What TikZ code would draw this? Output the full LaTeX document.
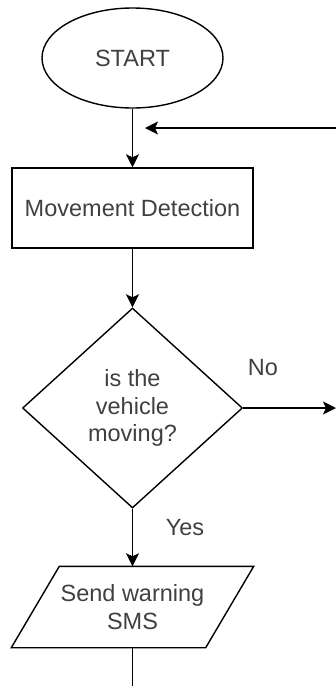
\documentclass[tikz,border=0pt]{standalone}
\usepackage{fontspec}
\setmainfont{Liberation Sans}
\usetikzlibrary{shapes.geometric,arrows.meta}
\definecolor{txt}{RGB}{64,64,64}
\tikzset{
  base/.style={draw=black, line width=1.4pt, text=txt, font=\fontsize{23.5}{27.5}\selectfont, align=center, inner sep=0pt},
  arr/.style={line width=1.4pt, -{Stealth[length=13pt,width=13pt,inset=3pt]}},
  plain/.style={line width=1.4pt},
  lbl/.style={text=txt, font=\fontsize{23.5}{27.5}\selectfont, inner sep=0pt}
}
\begin{document}
\begin{tikzpicture}[x=1pt,y=-1pt]
\useasboundingbox (0,0) rectangle (336,686);
\node[base, ellipse, minimum width=181pt, minimum height=100pt] (start) at (132.5,58) {START};
\node[base, rectangle, minimum width=241pt, minimum height=80pt] (detect) at (132.5,208) {Movement Detection};
\node[base, diamond, minimum width=220pt, minimum height=200pt] (decision) at (132.5,408) {is the\\vehicle\\moving?};
\node[base, draw=none, rectangle, minimum width=241pt, minimum height=80pt] (sms) at (132.5,607) {Send warning\\SMS};
\draw[line width=1.4pt, line join=miter] ([xshift=48pt]sms.north west) -- (sms.north east) -- ([xshift=-48pt]sms.south east) -- (sms.south west) -- cycle;
\coordinate (noEnd) at (336,408);
\coordinate (fbStart) at (337,128);
\coordinate (fbEnd) at (145,128);
\coordinate (bottom) at (132.5,687);
\draw[arr] (start) -- (detect);
\draw[arr] (detect) -- (decision);
\draw[arr] (decision) -- (sms.north);
\draw[arr] (decision.east) -- (noEnd);
\draw[arr] (fbStart) -- (fbEnd);
\draw[plain] (sms.south) -- (bottom);
\node[lbl] (no) at (263,368) {No};
\node[lbl] (yes) at (185,528) {Yes};
\end{tikzpicture}
\end{document}
